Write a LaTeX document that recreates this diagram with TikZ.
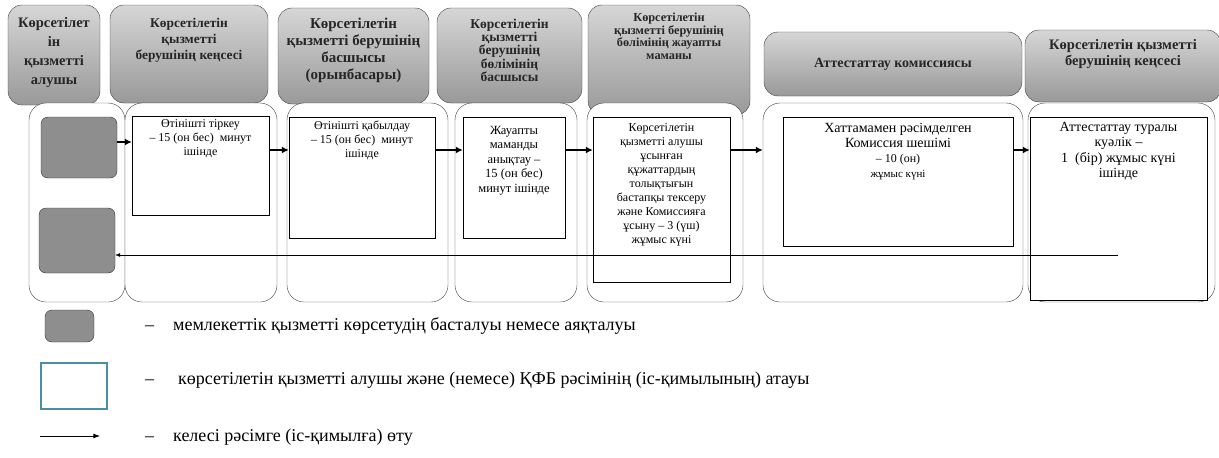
\documentclass[tikz,border=0pt]{standalone}
\usepackage{fontspec}
\setmainfont{Liberation Serif}
\usetikzlibrary{arrows.meta,positioning,calc}
\definecolor{HeadTop}{HTML}{D6D6D6}
\definecolor{HeadBottom}{HTML}{999999}
\definecolor{TermGray}{HTML}{8E8E8E}
\definecolor{LegendTeal}{HTML}{4A8FA3}

\tikzset{
  headbox/.style={draw=gray!50!black,rounded corners=14pt,top color=HeadTop,bottom color=HeadBottom,inner sep=0pt},
  headtext/.style={align=center,font=\bfseries\fontsize{12}{15}\selectfont,inner sep=0pt,text=black!85},
  lanebox/.style={draw=black!75,fill=white,rounded corners=17pt,inner sep=0pt},
  procbox/.style={draw,fill=white,inner sep=0pt},
  proctext/.style={align=center,font=\fontsize{12}{14}\selectfont,inner sep=0pt},
  termbox/.style={draw=black!80,fill=TermGray,rounded corners=7pt,inner sep=0pt},
  flow/.style={->,line width=1.8pt,>={Latex[length=7pt,width=7pt]}},
  legtext/.style={anchor=west,font=\fontsize{18}{20}\selectfont,inner sep=0pt},
}

\begin{document}
\begin{tikzpicture}[x=1pt,y=-1pt,>=Latex]
  \useasboundingbox[fill=white] (0,0) rectangle (1219,458);

  % swimlane heads
  \node[headbox,minimum width=92,minimum height=100] (h1) at (54,55) {};
  \node[headbox,minimum width=158,minimum height=98] (h2) at (189,54) {};
  \node[headbox,minimum width=151,minimum height=96] (h3) at (353.5,56) {};
  \node[headbox,minimum width=145,minimum height=95] (h4) at (509.5,55.5) {};
  \node[headbox,minimum width=162,minimum height=110] (h5) at (669,60) {};
  \node[headbox,minimum width=258,minimum height=64] (h6) at (893,64) {};
  \node[headbox,minimum width=196,minimum height=72] (h7) at (1123,66) {};
  \node[headtext,below=12pt of h1.north,font=\bfseries\fontsize{14.5}{19}\selectfont] (h1t) {Көрсетілет\\ін\\қызметті\\алушы};
  \node[headtext,below=13pt of h2.north,font=\bfseries\fontsize{13.4}{16}\selectfont] (h2t) {Көрсетілетін\\қызметті\\берушінің кеңсесі};
  \node[headtext,below=10pt of h3.north,font=\bfseries\fontsize{15}{17}\selectfont] (h3t) {Көрсетілетін\\қызметті берушінің\\басшысы\\(орынбасары)};
  \node[headtext,below=11pt of h4.north,font=\bfseries\fontsize{13.5}{13.3}\selectfont] (h4t) {Көрсетілетін\\қызметті\\берушінің\\бөлімінің\\басшысы};
  \node[headtext,below=8pt of h5.north,font=\bfseries\fontsize{12.3}{12.5}\selectfont] (h5t) {Көрсетілетін\\қызметті берушінің\\бөлімінің жауапты\\маманы};
  \node[headtext,font=\bfseries\fontsize{14}{16}\selectfont] (h6t) at (h6) {Аттестаттау комиссиясы};
  \node[headtext,below=9pt of h7.north,font=\bfseries\fontsize{14.5}{16.5}\selectfont] (h7t) {Көрсетілетін қызметті\\берушінің кеңсесі};

  % lanes
  \node[lanebox,minimum width=96,minimum height=199] (l1) at (77,202.5) {};
  \node[lanebox,minimum width=152,minimum height=199] (l2) at (201,202.5) {};
  \node[lanebox,minimum width=161,minimum height=199] (l3) at (367.5,202.5) {};
  \node[lanebox,minimum width=122,minimum height=199] (l4) at (516,202.5) {};
  \node[lanebox,minimum width=156,minimum height=199] (l5) at (665,202.5) {};
  \node[lanebox,minimum width=260,minimum height=199] (l6) at (893,202.5) {};
  \node[lanebox,minimum width=187,minimum height=199] (l7) at (1121.5,202.5) {};

  % start / end
  \node[termbox,minimum width=76,minimum height=61] (t1) at (79,147.5) {};
  \node[termbox,minimum width=76,minimum height=65] (t2) at (77,240.5) {};

  % steps
  \node[procbox,minimum width=137,minimum height=99] (p2) at (200.5,165.5) {};
  \node[procbox,minimum width=146,minimum height=121] (p3) at (362,177.5) {};
  \node[procbox,minimum width=102,minimum height=121] (p4) at (514,177.5) {};
  \node[procbox,minimum width=137,minimum height=165] (p5) at (661.5,199.5) {};
  \node[procbox,minimum width=230,minimum height=129] (p6) at (898,181.5) {};
  \node[procbox,minimum width=177,minimum height=183] (p7) at (1118.5,208.5) {};
  \node[proctext,below=4pt of p2.north] (p2t) {Өтінішті тіркеу\\– 15 (он бес)\ \ минут\\ішінде};
  \node[proctext,below=4pt of p3.north] (p3t) {Өтінішті қабылдау\\– 15 (он бес)\ \ минут\\ішінде};
  \node[proctext,below=9pt of p4.north,font=\fontsize{12.5}{14.5}\selectfont] (p4t) {Жауапты\\маманды\\анықтау –\\15 (он бес)\\минут ішінде};
  \node[proctext,below=7pt of p5.north] (p5t) {Көрсетілетін\\қызметті алушы\\ұсынған\\құжаттардың\\толықтығын\\бастапқы тексеру\\және Комиссияға\\ұсыну – 3 (үш)\\жұмыс күні};
  \node[proctext,below=6pt of p6.north,font=\fontsize{14}{15}\selectfont] (p6t) {Хаттамамен рәсімделген\\Комиссия шешімі\\{\fontsize{12}{15}\selectfont – 10 (он)}\\{\fontsize{11}{14}\selectfont жұмыс күні}};
  \node[proctext,below=5pt of p7.north,font=\fontsize{14}{15.5}\selectfont] (p7t) {Аттестаттау туралы\\куәлік –\\1\ \ (бір) жұмыс күні\\ішінде};

  % flow
  \coordinate (rowA) at (0,142);
  \coordinate (rowB) at (0,150);
  \coordinate (back) at (1118,255);
  \draw[flow] (t1.east |- rowA) -- (p2.west |- rowA);
  \draw[flow] (p2.east |- rowB) -- (p3.west |- rowB);
  \draw[flow] (p3.east |- rowB) -- (p4.west |- rowB);
  \draw[flow] (p4.east |- rowB) -- (p5.west |- rowB);
  \draw[flow] (p5.east |- rowB) -- (l6.west |- rowB);
  \draw[flow] (p6.east |- rowB) -- (p7.west |- rowB);
  \draw[->,thin] (back) -- (t2.east |- back);

  % legend
  \node[termbox,minimum width=49,minimum height=32] (k1) at (69.5,326) {};
  \node[draw=LegendTeal,line width=1.3pt,minimum width=66,minimum height=46,inner sep=0pt] (k2) at (74,386) {};
  \coordinate (k3a) at (40,436);
  \coordinate (k3b) at (100,436);
  \draw[->,thick] (k3a) -- (k3b);
  \node[legtext] (k1t) at (145,326) {–\hspace{19pt}мемлекеттік қызметті көрсетудің басталуы немесе аяқталуы};
  \node[legtext] (k2t) at (145,380) {–\hspace{24pt}көрсетілетін қызметті алушы және (немесе) ҚФБ рәсімінің (іс-қимылының) атауы};
  \node[legtext] (k3t) at (145,437) {–\hspace{19pt}келесі рәсімге (іс-қимылға) өту};
\end{tikzpicture}
\end{document}
